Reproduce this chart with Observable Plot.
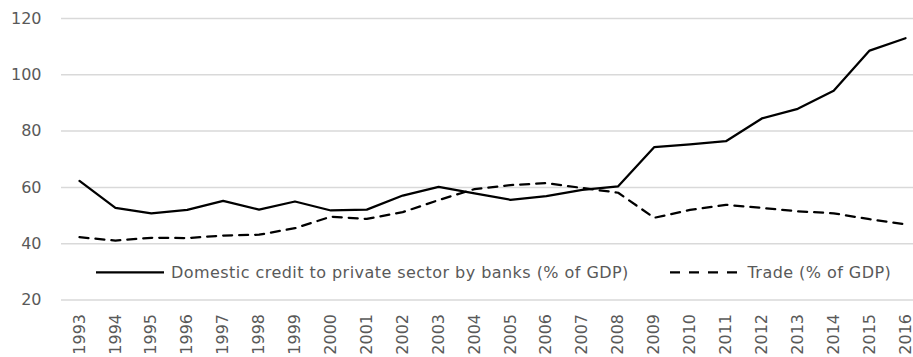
<!DOCTYPE html>
<html><head><meta charset="utf-8">
<script src="https://cdn.jsdelivr.net/npm/d3@7"></script>
<script src="https://cdn.jsdelivr.net/npm/@observablehq/plot@0.6"></script>
<style>body{margin:0;background:#fff} svg{display:block}</style>
</head><body><div id="chart"></div>
<script>
const years = ["1993","1994","1995","1996","1997","1998","1999","2000","2001","2002","2003","2004","2005","2006","2007","2008","2009","2010","2011","2012","2013","2014","2015","2016"];
const creditValues = [62.3,52.7,50.8,52.0,55.2,52.1,55.0,51.8,52.1,57.1,60.2,57.9,55.6,56.9,59.1,60.4,74.3,75.3,76.4,84.5,87.9,94.3,108.6,113.0];
const tradeValues = [42.3,41.1,42.1,42.0,42.9,43.2,45.5,49.6,48.8,51.2,55.5,59.4,60.8,61.5,59.8,58.1,49.2,52.0,53.8,52.7,51.5,50.8,48.7,46.9];
const seriesNames = ["Domestic credit to private sector by banks (% of GDP)", "Trade (% of GDP)"];
const yTicks = [20, 40, 60, 80, 100, 120];

const credit = years.map((y, i) => ({year: y, value: creditValues[i]}));
const trade = years.map((y, i) => ({year: y, value: tradeValues[i]}));

const FONT = "DejaVu Sans";
const TXT = "#595959";

const chart = Plot.plot({
  width: 913,
  height: 357,
  marginTop: 18,
  marginBottom: 57.5,
  marginLeft: 61,
  marginRight: 0,
  style: {fontFamily: FONT, fontSize: "16px", color: TXT, background: "#fff"},
  x: {type: "point", domain: years, range: [79, 905], padding: 0, round: false},
  y: {domain: [20, 120]},
  marks: [
    Plot.ruleY(yTicks, {stroke: "#d9d9d9", strokeWidth: 1.5}),
    Plot.axisY({ticks: yTicks, tickSize: 0, tickPadding: 20, label: null, fill: TXT, fontSize: 16}),
    Plot.axisX({tickSize: 0, tickPadding: 14, tickRotate: -90, label: null, fill: TXT, fontSize: 16}),
    Plot.lineY(trade, {x: "year", y: "value", stroke: "#000", strokeWidth: 2.25, strokeDasharray: "9,7", strokeLinejoin: "round"}),
    Plot.lineY(credit, {x: "year", y: "value", stroke: "#000", strokeWidth: 2.25, strokeLinejoin: "round"})
  ]
});
document.getElementById("chart").appendChild(chart);

// in-plot legend
const svg = d3.select(chart);
const lg = svg.append("g").attr("font-family", FONT).attr("font-size", 16).attr("fill", TXT)
  .attr("text-anchor", "start").attr("letter-spacing", "0.45px");
const ly = 272.3;
lg.append("line").attr("x1", 96).attr("x2", 164).attr("y1", ly).attr("y2", ly)
  .attr("stroke", "#000").attr("stroke-width", 2.25);
lg.append("text").attr("x", 171).attr("y", ly).attr("dy", "0.35em").text(seriesNames[0]);
lg.append("line").attr("x1", 670).attr("x2", 738).attr("y1", ly).attr("y2", ly)
  .attr("stroke", "#000").attr("stroke-width", 2.25).attr("stroke-dasharray", "10,9");
lg.append("text").attr("x", 747.5).attr("y", ly).attr("dy", "0.35em").text(seriesNames[1]);
</script>
</body></html>
